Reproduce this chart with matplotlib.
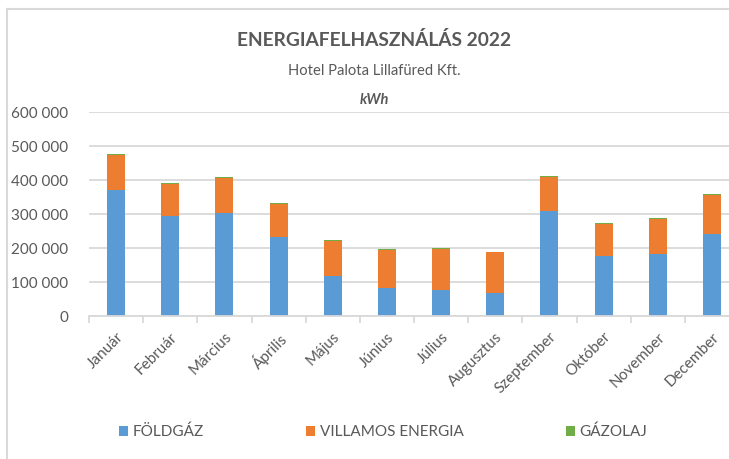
import matplotlib.pyplot as plt
import matplotlib.lines as mlines
import numpy as np
from matplotlib.ticker import FuncFormatter

# --- Data (kWh) ---
months = ['Január', 'Február', 'Március', 'Április', 'Május', 'Június',
          'Július', 'Augusztus', 'Szeptember', 'Október', 'November', 'December']
foldgaz = [370000, 295000, 303000, 231000, 118000, 83000,
           76000, 67000, 308000, 176000, 181000, 242000]
villamos = [103000, 93000, 102000, 99000, 104000, 111000,
            121000, 120000, 100000, 96000, 103000, 115000]
gazolaj = [2500, 2500, 3000, 3000, 3000, 3000,
           3000, 2500, 3000, 3000, 3000, 3000]

C_BLUE = '#5B9BD5'
C_ORANGE = '#ED7D31'
C_GREEN = '#70AD47'
C_TEXT = '#595959'
C_GRID = '#D9D9D9'

plt.rcParams['font.family'] = ['Lato', 'DejaVu Sans']

fig = plt.figure(figsize=(7.29, 4.59), dpi=100)
W, H = 729, 459
ax = fig.add_axes([89 / W, 1 - 316 / H, (739 - 89) / W, (316 - 112) / H])

x = np.arange(len(months))
bw = 0.33
f = np.array(foldgaz)
v = np.array(villamos)
g = np.array(gazolaj)
ax.bar(x, f, bw, color=C_BLUE, label='FÖLDGÁZ', zorder=3)
ax.bar(x, v, bw, bottom=f, color=C_ORANGE, label='VILLAMOS ENERGIA', zorder=3)
ax.bar(x, g, bw, bottom=f + v, color=C_GREEN, label='GÁZOLAJ', zorder=3)

ax.set_xlim(-0.5, len(months) - 0.5)
ax.set_ylim(0, 600000)
ax.set_yticks(np.arange(0, 600001, 100000))
ax.yaxis.set_major_formatter(FuncFormatter(lambda val, p: f'{int(val):,}'.replace(',', ' ')))
ax.grid(axis='y', color=C_GRID, lw=1.3, zorder=0)

for s in ['top', 'right', 'left']:
    ax.spines[s].set_visible(False)
ax.spines['bottom'].set_color(C_GRID)
ax.spines['bottom'].set_linewidth(1.3)
ax.spines['bottom'].set_zorder(4)

ax.set_xticks(x)
ax.set_xticklabels(months, rotation=45, ha='right', rotation_mode='anchor',
                   fontsize=11, color=C_TEXT)
ax.set_xticks(np.arange(-0.5, len(months), 1), minor=True)
ax.tick_params(axis='x', which='major', length=0, pad=10)
ax.tick_params(axis='x', which='minor', length=5, color=C_GRID, width=1.3)
ax.tick_params(axis='y', length=0, pad=15, labelsize=11, labelcolor=C_TEXT)

# Titles
fig.text(374 / W, 1 - 40 / H, 'ENERGIAFELHASZNÁLÁS 2022', ha='center', va='center',
         fontsize=13.8, weight='bold', color=C_TEXT)
fig.text(374 / W, 1 - 71 / H, 'Hotel Palota Lillafüred Kft.', ha='center', va='center',
         fontsize=10.6, color=C_TEXT)
fig.text(374 / W, 1 - 100 / H, 'kWh', ha='center', va='center',
         fontsize=10.5, style='italic', weight='bold', color=C_TEXT)

# Legend
fig.legend(loc='center', bbox_to_anchor=(383 / W, 1 - 432 / H), ncol=3, frameon=False,
           fontsize=11, labelcolor=C_TEXT, handlelength=0.6, handleheight=0.6,
           handletextpad=0.3, columnspacing=6.7)

# Chart border (top and left visible)
fig.add_artist(mlines.Line2D([7 / W, 1], [1 - 9 / H, 1 - 9 / H], color=C_GRID, lw=1.5))
fig.add_artist(mlines.Line2D([7 / W, 7 / W], [0, 1 - 9 / H], color=C_GRID, lw=1.5))

fig.savefig('out.png', dpi=100)
